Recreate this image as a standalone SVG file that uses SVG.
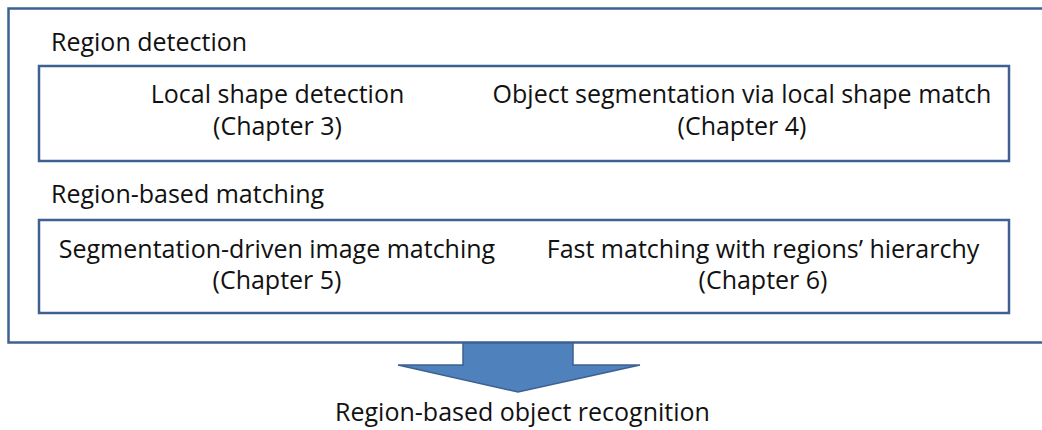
<svg xmlns="http://www.w3.org/2000/svg" width="1042" height="430" viewBox="0 0 1042 430">
  <style>
    .frame { fill: #ffffff; stroke: #3d6190; stroke-width: 2.5; }
    .txt { font-family: "Open Sans", "DejaVu Sans", sans-serif; font-size: 25px; fill: #111111; }
    .mid { text-anchor: middle; }
  </style>
  <rect width="1042" height="430" fill="#ffffff"/>

  <!-- outer container, open to the right -->
  <g id="container">
    <path class="frame" d="M1044,8.5 H8.5 V342.5 H1044"/>
  </g>

  <g id="region-detection">
    <text class="txt" x="51" y="50.5">Region detection</text>
    <rect class="frame" x="39" y="66" width="970" height="95"/>
  </g>
  <g id="local-shape-detection">
    <text class="txt mid" x="277.5" y="102.5">Local shape detection</text>
    <text class="txt mid" x="277.5" y="135">(Chapter 3)</text>
  </g>
  <g id="object-segmentation">
    <text class="txt mid" x="742" y="102.5">Object segmentation via local shape match</text>
    <text class="txt mid" x="742" y="135">(Chapter 4)</text>
  </g>

  <g id="region-matching">
    <text class="txt" x="51" y="203">Region-based matching</text>
    <rect class="frame" x="39" y="220" width="970" height="93"/>
  </g>
  <g id="segmentation-matching">
    <text class="txt mid" x="277" y="258">Segmentation-driven image matching</text>
    <text class="txt mid" x="277" y="289">(Chapter 5)</text>
  </g>
  <g id="fast-matching">
    <text class="txt mid" x="763" y="258">Fast matching with regions’ hierarchy</text>
    <text class="txt mid" x="763" y="289">(Chapter 6)</text>
  </g>

  <g id="connectors">
    <path d="M463,343 H573 V365 H640 L518,392 L398,365 H463 Z" fill="#4f81bd" stroke="#3d6190" stroke-width="1.5" stroke-linejoin="miter"/>
  </g>

  <g id="recognition">
    <text class="txt mid" x="522.5" y="421">Region-based object recognition</text>
  </g>
</svg>
